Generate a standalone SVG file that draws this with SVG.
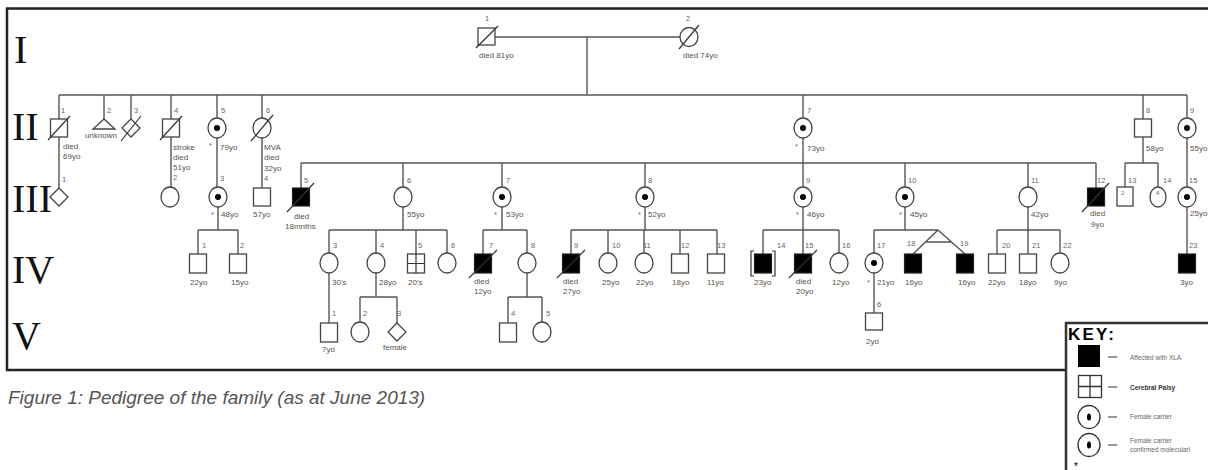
<svg xmlns="http://www.w3.org/2000/svg" width="1208" height="470" viewBox="0 0 1208 470">
<style>
.ln{stroke:#555;stroke-width:1.4;fill:none}
.sh{fill:#fff;stroke:#444;stroke-width:1.3}
.af{fill:#000;stroke:#222;stroke-width:1.2}
.sl{stroke:#333;stroke-width:1.2}
.dot{fill:#000}
.num{font-family:"Liberation Sans",Arial,sans-serif;font-size:7.5px;fill:#666}
.age{font-family:"Liberation Sans",Arial,sans-serif;font-size:8px;fill:#5b5148}
.gen{font-family:"Liberation Serif","Times New Roman",serif;font-size:40px;fill:#111}
.key{font-family:"Liberation Sans",Arial,sans-serif;font-size:6.5px;fill:#666}
</style>
<rect width="1208" height="470" fill="#fff"/>
<rect x="7" y="8.5" width="1220" height="361.5" fill="none" stroke="#222" stroke-width="2.5"/>

<g id="generations">
<text class="gen" x="14" y="63">I</text>
<text class="gen" x="12" y="140">II</text>
<text class="gen" x="12" y="212">III</text>
<text class="gen" x="12" y="283">IV</text>
<text class="gen" x="12" y="349">V</text>
</g>

<g id="connectors">
<path class="ln" d="M495,37H680M587,37V95M59,95H1187"/>
<path class="ln" d="M59,95V119M104,95V119M131,95V119M171,95V119M217,95V118M262,95V118M803,95V118M1143,95V119M1187,95V118"/>
<path class="ln" d="M59,137V188M171,137V187M217,138V187M262,138V188M803,138V187M1143,137V163M1187,138V187"/>
<path class="ln" d="M301,163H1096M301,163V188M403,163V187M502,163V187M645,163V187M905,163V187M1028,163V187M1096,163V188"/>
<path class="ln" d="M1125,163H1158M1125,163V187M1158,163V187"/>
<path class="ln" d="M218,207V230M198,230H238M198,230V254M238,230V254"/>
<path class="ln" d="M403,207V230M329,230H447M329,230V253M376,230V253M416,230V254M447,230V253"/>
<path class="ln" d="M502,207V230M483,230H527M483,230V254M527,230V253"/>
<path class="ln" d="M645,207V230M571,230H717M571,230V254M608,230V253M644,230V253M680,230V254M717,230V254"/>
<path class="ln" d="M803,207V230M763,230H839M763,230V254M803,230V254M839,230V253"/>
<path class="ln" d="M905,207V230M874,230H938M874,230V253M938,230L913,254M938,230L965,254M925.5,242H951.5"/>
<path class="ln" d="M1028,207V230M997,230H1060M997,230V254M1028,230V254M1060,230V253"/>
<path class="ln" d="M1187,207V254"/>
<path class="ln" d="M329,273V323M376,273V297M360,297H397M360,297V322M397,297V323"/>
<path class="ln" d="M527,273V297M508,297H542M508,297V323M542,297V322"/>
<path class="ln" d="M874,273V313"/>
</g>

<g id="I-1"><rect class="sh" x="478" y="28" width="17" height="17"/><line class="sl" x1="476" y1="48" x2="498" y2="26"/><text class="num" x="485" y="21">1</text><text class="age" x="479" y="58">died 81yo</text></g>
<g id="I-2"><ellipse class="sh" cx="689" cy="37" rx="9" ry="9.5"/><line class="sl" x1="679" y1="49" x2="699" y2="25"/><text class="num" x="686" y="21">2</text><text class="age" x="683" y="58">died 74yo</text></g>

<g id="II-1"><rect class="sh" x="50.5" y="119" width="17" height="18"/><line class="sl" x1="48" y1="140" x2="70" y2="116"/><text class="num" x="61" y="113">1</text><text class="age" x="63" y="149">died</text><text class="age" x="63" y="159">69yo</text></g>
<g id="II-2"><polygon class="sh" points="104,119 93,129 115,129"/><text class="num" x="107" y="113">2</text><text class="age" x="85" y="138">unknown</text></g>
<g id="II-3"><polygon class="sh" points="131,119 140,128 131,137 122,128"/><line class="sl" x1="121" y1="141" x2="141" y2="116"/><text class="num" x="134" y="113">3</text></g>
<g id="II-4"><rect class="sh" x="162.5" y="119" width="17" height="18"/><line class="sl" x1="160" y1="140" x2="182" y2="116"/><text class="num" x="174" y="113">4</text><text class="age" x="173" y="150">stroke</text><text class="age" x="173" y="160">died</text><text class="age" x="173" y="170">51yo</text><text class="num" x="173" y="180">2</text></g>
<g id="II-5"><ellipse class="sh" cx="217" cy="128" rx="9" ry="10"/><circle class="dot" cx="217" cy="128" r="3"/><text class="num" x="221" y="113">5</text><text class="num" x="209" y="148">*</text><text class="age" x="220" y="150">79yo</text><text class="num" x="220" y="181">3</text></g>
<g id="II-6"><ellipse class="sh" cx="262" cy="128" rx="9" ry="10"/><line class="sl" x1="251" y1="141" x2="273" y2="115"/><text class="num" x="266" y="113">6</text><text class="age" x="264" y="150">MVA</text><text class="age" x="264" y="160">died</text><text class="age" x="264" y="171">32yo</text><text class="num" x="264" y="181">4</text></g>
<g id="II-7"><ellipse class="sh" cx="803" cy="128" rx="9" ry="10"/><circle class="dot" cx="803" cy="128" r="3"/><text class="num" x="807" y="113">7</text><text class="num" x="795" y="149">*</text><text class="age" x="807" y="151">73yo</text></g>
<g id="II-8"><rect class="sh" x="1134.5" y="119" width="17" height="18"/><text class="num" x="1146" y="113">8</text><text class="age" x="1146" y="151">58yo</text></g>
<g id="II-9"><ellipse class="sh" cx="1187" cy="128" rx="9" ry="10"/><circle class="dot" cx="1187" cy="128" r="3"/><text class="num" x="1190" y="113">9</text><text class="age" x="1190" y="151">55yo</text></g>

<g id="III-1"><polygon class="sh" points="59,188 68,197 59,206 50,197"/><text class="num" x="62" y="182">1</text></g>
<g id="III-2"><ellipse class="sh" cx="170" cy="197" rx="9" ry="10"/></g>
<g id="III-3"><ellipse class="sh" cx="218" cy="197" rx="9" ry="10"/><circle class="dot" cx="218" cy="197" r="3"/><text class="num" x="211" y="217">*</text><text class="age" x="221" y="217">48yo</text></g>
<g id="III-4"><rect class="sh" x="253.5" y="188" width="17" height="18"/><text class="age" x="253" y="217">57yo</text></g>
<g id="III-5"><rect class="af" x="292.5" y="188" width="17" height="18"/><line class="sl" x1="287" y1="212" x2="314" y2="183"/><text class="num" x="304" y="183">5</text><text class="age" x="294" y="219">died</text><text class="age" x="285" y="229">18mnths</text></g>
<g id="III-6"><ellipse class="sh" cx="403" cy="197" rx="9" ry="10"/><text class="num" x="407" y="183">6</text><text class="age" x="407" y="217">55yo</text></g>
<g id="III-7"><ellipse class="sh" cx="502" cy="197" rx="9" ry="10"/><circle class="dot" cx="502" cy="197" r="3"/><text class="num" x="506" y="183">7</text><text class="num" x="494" y="217">*</text><text class="age" x="506" y="217">53yo</text></g>
<g id="III-8"><ellipse class="sh" cx="645" cy="197" rx="9" ry="10"/><circle class="dot" cx="645" cy="197" r="3"/><text class="num" x="648" y="183">8</text><text class="num" x="638" y="217">*</text><text class="age" x="648" y="217">52yo</text></g>
<g id="III-9"><ellipse class="sh" cx="803" cy="197" rx="9" ry="10"/><circle class="dot" cx="803" cy="197" r="3"/><text class="num" x="806" y="183">9</text><text class="num" x="796" y="217">*</text><text class="age" x="807" y="217">46yo</text></g>
<g id="III-10"><ellipse class="sh" cx="905" cy="197" rx="9" ry="10"/><circle class="dot" cx="905" cy="197" r="3"/><text class="num" x="908" y="183">10</text><text class="num" x="899" y="217">*</text><text class="age" x="910" y="217">45yo</text></g>
<g id="III-11"><ellipse class="sh" cx="1028" cy="197" rx="9" ry="10"/><text class="num" x="1031" y="183">11</text><text class="age" x="1031" y="217">42yo</text></g>
<g id="III-12"><rect class="af" x="1087.5" y="188" width="17" height="18"/><line class="sl" x1="1082" y1="212" x2="1109" y2="183"/><text class="num" x="1097" y="183">12</text><text class="age" x="1090" y="216">died</text><text class="age" x="1091" y="227">9yo</text></g>
<g id="III-13"><rect class="sh" x="1117" y="187" width="16" height="19"/><text class="num" x="1121" y="195" style="font-size:6px">2</text><text class="num" x="1128" y="183">13</text></g>
<g id="III-14"><ellipse class="sh" cx="1158" cy="197" rx="8" ry="10"/><text class="num" x="1156" y="195" style="font-size:6px">4</text><text class="num" x="1163" y="183">14</text></g>
<g id="III-15"><ellipse class="sh" cx="1187" cy="197" rx="9" ry="10"/><circle class="dot" cx="1187" cy="197" r="3"/><text class="num" x="1189" y="183">15</text><text class="age" x="1190" y="216">25yo</text></g>

<g id="IV-1"><rect class="sh" x="189.5" y="254" width="17" height="19"/><text class="num" x="202" y="248">1</text><text class="age" x="190" y="285">22yo</text></g>
<g id="IV-2"><rect class="sh" x="229.5" y="254" width="17" height="19"/><text class="num" x="240" y="248">2</text><text class="age" x="231" y="285">15yo</text></g>
<g id="IV-3"><ellipse class="sh" cx="329" cy="263" rx="9" ry="10"/><text class="num" x="333" y="248">3</text><text class="age" x="332" y="285">30's</text></g>
<g id="IV-4"><ellipse class="sh" cx="376" cy="263" rx="9" ry="10"/><text class="num" x="380" y="248">4</text><text class="age" x="379" y="285">28yo</text></g>
<g id="IV-5"><rect class="sh" x="407.5" y="254" width="17" height="19"/><path class="sl" d="M416,254V273M407.5,263.5H424.5"/><text class="num" x="418" y="248">5</text><text class="age" x="408" y="285">20's</text></g>
<g id="IV-6"><ellipse class="sh" cx="447" cy="263" rx="9" ry="10"/><text class="num" x="451" y="248">6</text></g>
<g id="IV-7"><rect class="af" x="474.5" y="254" width="17" height="19"/><line class="sl" x1="469" y1="278" x2="497" y2="250"/><text class="num" x="489" y="248">7</text><text class="age" x="474" y="284">died</text><text class="age" x="474" y="294">12yo</text></g>
<g id="IV-8"><ellipse class="sh" cx="527" cy="263" rx="9" ry="10"/><text class="num" x="531" y="248">8</text></g>
<g id="IV-9"><rect class="af" x="562.5" y="254" width="17" height="19"/><line class="sl" x1="557" y1="278" x2="585" y2="250"/><text class="num" x="574" y="248">9</text><text class="age" x="563" y="284">died</text><text class="age" x="563" y="294">27yo</text></g>
<g id="IV-10"><ellipse class="sh" cx="608" cy="263" rx="9" ry="10"/><text class="num" x="612" y="248">10</text><text class="age" x="602" y="285">25yo</text></g>
<g id="IV-11"><ellipse class="sh" cx="644" cy="263" rx="9" ry="10"/><text class="num" x="643" y="248">11</text><text class="age" x="636" y="285">22yo</text></g>
<g id="IV-12"><rect class="sh" x="671.5" y="254" width="17" height="19"/><text class="num" x="681" y="248">12</text><text class="age" x="672" y="285">18yo</text></g>
<g id="IV-13"><rect class="sh" x="707.5" y="254" width="17" height="19"/><text class="num" x="717" y="248">13</text><text class="age" x="707" y="285">11yo</text></g>
<g id="IV-14"><rect class="af" x="754.5" y="254" width="17" height="19"/><path class="sl" fill="none" d="M754,251H751V276H754M772,251H775V276H772"/><text class="num" x="777" y="248">14</text><text class="age" x="754" y="285">23yo</text></g>
<g id="IV-15"><rect class="af" x="794.5" y="254" width="17" height="19"/><line class="sl" x1="789" y1="278" x2="817" y2="250"/><text class="num" x="805" y="248">15</text><text class="age" x="796" y="284">died</text><text class="age" x="796" y="294">20yo</text></g>
<g id="IV-16"><ellipse class="sh" cx="839" cy="263" rx="9" ry="10"/><text class="num" x="842" y="248">16</text><text class="age" x="832" y="285">12yo</text></g>
<g id="IV-17"><ellipse class="sh" cx="874" cy="263" rx="9" ry="10"/><circle class="dot" cx="874" cy="263" r="3"/><text class="num" x="877" y="248">17</text><text class="num" x="867" y="285">*</text><text class="age" x="877" y="285">21yo</text></g>
<g id="IV-18"><rect class="af" x="904.5" y="254" width="17" height="19"/><text class="num" x="907" y="246">18</text><text class="age" x="905" y="285">16yo</text></g>
<g id="IV-19"><rect class="af" x="956.5" y="254" width="17" height="19"/><text class="num" x="960" y="246">19</text><text class="age" x="958" y="285">16yo</text></g>
<g id="IV-20"><rect class="sh" x="988.5" y="254" width="17" height="19"/><text class="num" x="1002" y="248">20</text><text class="age" x="988" y="285">22yo</text></g>
<g id="IV-21"><rect class="sh" x="1019.5" y="254" width="17" height="19"/><text class="num" x="1032" y="248">21</text><text class="age" x="1019" y="285">18yo</text></g>
<g id="IV-22"><ellipse class="sh" cx="1060" cy="263" rx="9" ry="10"/><text class="num" x="1063" y="248">22</text><text class="age" x="1054" y="285">9yo</text></g>
<g id="IV-23"><rect class="af" x="1178.5" y="254" width="17" height="19"/><text class="num" x="1189" y="248">23</text><text class="age" x="1180" y="285">3yo</text></g>

<g id="V-1"><rect class="sh" x="320.5" y="323" width="17" height="19"/><text class="num" x="332" y="316">1</text><text class="age" x="322" y="352">7yo</text></g>
<g id="V-2"><ellipse class="sh" cx="360" cy="332" rx="9" ry="10"/><text class="num" x="363" y="316">2</text></g>
<g id="V-3"><polygon class="sh" points="397,323 406,332 397,341 388,332"/><text class="num" x="397" y="316">3</text><text class="age" x="383" y="350">female</text></g>
<g id="V-4"><rect class="sh" x="499.5" y="323" width="17" height="19"/><text class="num" x="511" y="316">4</text></g>
<g id="V-5"><ellipse class="sh" cx="542" cy="332" rx="9" ry="10"/><text class="num" x="546" y="316">5</text></g>
<g id="V-6"><rect class="sh" x="865.5" y="313" width="17" height="17"/><text class="num" x="877" y="307">6</text><text class="age" x="866" y="344">2yo</text></g>

<text x="8" y="404" font-family="'Liberation Sans',Arial,sans-serif" font-size="19" font-style="italic" fill="#555">Figure 1: Pedigree of the family (as at June 2013)</text>

<g id="key">
<rect x="1066" y="323" width="160" height="160" fill="#fff" stroke="#333" stroke-width="2.5"/>
<text x="1068" y="340" font-family="'Liberation Sans',Arial,sans-serif" font-size="17" font-weight="bold" fill="#000" textLength="46">KEY:</text>
<rect x="1078" y="345" width="22" height="22" fill="#000"/>
<rect x="1078.5" y="375.5" width="23" height="22" fill="#fff" stroke="#333" stroke-width="1.3"/>
<path d="M1090,375.5V397.5M1078.5,386.5H1101.5" stroke="#333" stroke-width="1.3"/>
<ellipse cx="1089" cy="417" rx="11" ry="11.5" fill="#fff" stroke="#333" stroke-width="1.3"/>
<ellipse cx="1089" cy="417" rx="2" ry="3.5" fill="#000"/>
<ellipse cx="1089" cy="445" rx="11" ry="11.5" fill="#fff" stroke="#333" stroke-width="1.3"/>
<ellipse cx="1089" cy="445" rx="2" ry="3.5" fill="#000"/>
<path d="M1108,357H1117M1108,387H1117M1108,417H1117M1108,445H1117" stroke="#333" stroke-width="1.2"/>
<text class="key" x="1130" y="360">Affected with XLA</text>
<text class="key" x="1130" y="390" style="fill:#333;font-weight:bold">Cerebral Palsy</text>
<text class="key" x="1130" y="419">Female carrier</text>
<text class="key" x="1130" y="443">Female carrier</text>
<text class="key" x="1130" y="452">confirmed molecularl</text>
<text x="1074" y="470" font-family="'Liberation Sans',Arial,sans-serif" font-size="10" fill="#000">*</text>
</g>
</svg>
